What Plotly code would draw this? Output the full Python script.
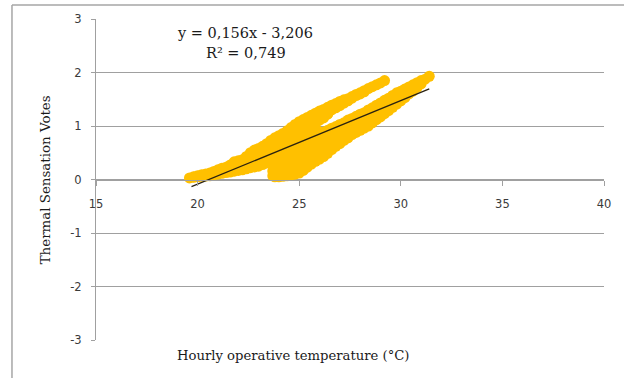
import plotly.graph_objects as go

# Observed thermal sensation votes, grouped by hourly operative temperature (°C).
# Common cloud below ~26 °C, then two separate branches above it.
merged_temps = [19.6, 19.8, 20.0, 20.2, 20.4, 20.6, 20.8, 21.0, 21.2, 21.4,
                21.6, 21.8, 22.0, 22.2, 22.4, 22.6, 22.8, 23.0, 23.2, 23.4,
                23.6, 23.7, 23.8, 24.0, 24.2, 24.4, 24.6, 24.8, 25.0, 25.2,
                25.4, 25.6, 25.8]
merged_votes = [
    [0.03],
    [0.05, 0.04],
    [0.07, 0.05],
    [0.09, 0.06],
    [0.105, 0.065],
    [0.12, 0.07],
    [0.15, 0.085],
    [0.18, 0.10],
    [0.21, 0.115],
    [0.23, 0.13],
    [0.27, 0.14],
    [0.33, 0.24, 0.155],
    [0.35, 0.26, 0.17],
    [0.37, 0.27, 0.18],
    [0.43, 0.31, 0.20],
    [0.50, 0.36, 0.22],
    [0.55, 0.445, 0.34, 0.235],
    [0.58, 0.47, 0.36, 0.25],
    [0.62, 0.50, 0.39, 0.28],
    [0.67, 0.54, 0.42, 0.31],
    [0.73, 0.60, 0.47, 0.34],
    [0.16, 0.07],
    [0.78, 0.65, 0.52, 0.39, 0.26, 0.13, 0.05],
    [0.82, 0.69, 0.56, 0.43, 0.30, 0.17, 0.05],
    [0.86, 0.73, 0.60, 0.47, 0.34, 0.21, 0.06],
    [0.91, 0.78, 0.65, 0.52, 0.39, 0.26, 0.13, 0.07],
    [0.97, 0.84, 0.71, 0.58, 0.45, 0.32, 0.19, 0.08],
    [1.03, 0.90, 0.77, 0.64, 0.51, 0.38, 0.25, 0.10],
    [1.08, 0.95, 0.82, 0.69, 0.56, 0.43, 0.30, 0.17, 0.12],
    [1.12, 0.99, 0.86, 0.73, 0.60, 0.47, 0.34, 0.21, 0.17],
    [1.16, 1.03, 0.90, 0.77, 0.64, 0.51, 0.38, 0.25, 0.23],
    [1.20, 1.07, 0.94, 0.81, 0.68, 0.55, 0.42, 0.29],
    [1.24, 1.11, 0.98, 0.85, 0.72, 0.59, 0.46, 0.34],
]

upper_temps = [26.0, 26.2, 26.4, 26.6, 26.8, 27.0, 27.2, 27.4, 27.6, 27.8,
               28.0, 28.2, 28.4, 28.6, 28.8, 29.0, 29.2]
upper_votes = [
    [1.28, 1.15, 1.11],
    [1.31, 1.19, 1.15],
    [1.35, 1.23, 1.22],
    [1.39, 1.30],
    [1.42, 1.34],
    [1.46, 1.38],
    [1.49, 1.43],
    [1.51, 1.47],
    [1.55, 1.52],
    [1.59, 1.57], [1.62, 1.60], [1.66, 1.64], [1.70], [1.735], [1.77],
    [1.805], [1.85],
]

lower_temps = [26.0, 26.2, 26.4, 26.6, 26.8, 27.0, 27.2, 27.4, 27.6, 27.8,
               28.0, 28.2, 28.4, 28.6, 28.8, 29.0, 29.2, 29.4, 29.6, 29.8,
               30.0, 30.2, 30.4, 30.6, 30.8, 31.0, 31.2, 31.4]
lower_votes = [
    [0.88, 0.75, 0.62, 0.49, 0.38],
    [0.89, 0.76, 0.63, 0.50, 0.43],
    [0.92, 0.79, 0.66, 0.53, 0.49],
    [0.96, 0.83, 0.70, 0.56],
    [0.99, 0.86, 0.73, 0.62],
    [1.03, 0.90, 0.77, 0.67],
    [1.06, 0.93, 0.80, 0.73],
    [1.11, 0.98, 0.85, 0.78],
    [1.14, 1.01, 0.88, 0.84],
    [1.18, 1.05, 0.92, 0.88],
    [1.22, 1.09, 0.96, 0.92],
    [1.25, 1.12, 0.99, 0.96],
    [1.30, 1.17, 1.04, 1.00],
    [1.34, 1.21, 1.08, 1.06],
    [1.39, 1.26, 1.13, 1.12],
    [1.43, 1.30, 1.17],
    [1.48, 1.35, 1.23],
    [1.52, 1.39, 1.29],
    [1.57, 1.44, 1.35],
    [1.62, 1.49, 1.41],
    [1.65, 1.52, 1.47],
    [1.69, 1.56, 1.53],
    [1.73, 1.60],
    [1.77, 1.65],
    [1.81, 1.72],
    [1.85, 1.79],
    [1.875],
    [1.93],
]

# Linear trend line
slope = 0.156
intercept = -3.206
r_squared = 0.749
trend_x = [19.7, 31.4]

x_ticks = [15, 20, 25, 30, 35, 40]
y_ticks = [-3, -2, -1, 0, 1, 2, 3]


def flatten(temps, votes):
    xs, ys = [], []
    for t, vs in zip(temps, votes):
        for v in vs:
            xs.append(t)
            ys.append(v)
    return xs, ys


all_x, all_y = [], []
for temps, votes in ((merged_temps, merged_votes),
                     (upper_temps, upper_votes),
                     (lower_temps, lower_votes)):
    xs, ys = flatten(temps, votes)
    all_x += xs
    all_y += ys

fig = go.Figure()
fig.add_trace(go.Scatter(
    x=all_x, y=all_y, mode="markers",
    marker=dict(size=11, color="#FFC000", line=dict(width=0)),
    hoverinfo="skip", showlegend=False,
))
fig.add_trace(go.Scatter(
    x=trend_x, y=[slope * x + intercept for x in trend_x], mode="lines",
    line=dict(color="#2b2210", width=1.3),
    hoverinfo="skip", showlegend=False,
))

grid = "#a0a0a0"
tick_font = dict(family="DejaVu Sans", size=11.5, color="#3a3a3a")
serif = "DejaVu Serif"

fig.update_layout(
    width=624, height=378,
    margin=dict(l=96, r=20, t=19, b=38),
    paper_bgcolor="white", plot_bgcolor="white",
    xaxis=dict(
        range=[15, 40], tickvals=x_ticks, ticktext=[str(v) for v in x_ticks],
        anchor="free", position=0.5,
        showgrid=False, zeroline=False,
        showline=True, linecolor=grid, linewidth=1,
        ticks="outside", ticklen=5, tickcolor=grid, tickwidth=1,
        ticklabelstandoff=9,
        tickfont=tick_font,
    ),
    yaxis=dict(
        range=[-3, 3], tickvals=y_ticks, ticktext=[str(v) for v in y_ticks],
        showgrid=True, gridcolor=grid, gridwidth=1, zeroline=False,
        showline=True, linecolor=grid, linewidth=1,
        ticks="outside", ticklen=4, tickcolor=grid, tickwidth=1,
        ticklabelstandoff=7,
        tickfont=tick_font,
    ),
    annotations=[
        dict(text=f"y = {slope:.3f}x - {abs(intercept):.3f}".replace(".", ","),
             xref="paper", yref="paper", x=0.293, y=0.956,
             showarrow=False, xanchor="center", yanchor="middle",
             font=dict(family=serif, size=14.5, color="#1a1a1a")),
        dict(text=f"R² = {r_squared:.3f}".replace(".", ","),
             xref="paper", yref="paper", x=0.295, y=0.894,
             showarrow=False, xanchor="center", yanchor="middle",
             font=dict(family=serif, size=14.5, color="#1a1a1a")),
        dict(text="Hourly operative temperature (°C)",
             xref="paper", yref="paper", x=0.388, y=-0.047,
             showarrow=False, xanchor="center", yanchor="middle",
             font=dict(family=serif, size=13.2, color="#1a1a1a")),
        dict(text="Thermal Sensation Votes", textangle=-90,
             xref="paper", yref="paper", x=-0.100, y=0.498,
             showarrow=False, xanchor="center", yanchor="middle",
             font=dict(family=serif, size=13.4, color="#1a1a1a")),
    ],
    shapes=[
        dict(type="line", xref="paper", yref="paper",
             x0=-0.1654, x1=1.05, y0=1.0436, y1=1.0436,
             line=dict(color="#a6a6a6", width=1.5)),
        dict(type="line", xref="paper", yref="paper",
             x0=-0.1654, x1=-0.1654, y0=1.0436, y1=-0.12,
             line=dict(color="#a6a6a6", width=1.5)),
    ],
)

fig.write_html("out.html")
